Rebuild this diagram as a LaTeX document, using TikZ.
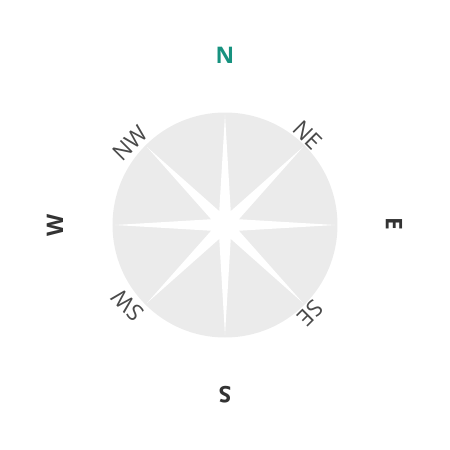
\documentclass[tikz,border=0pt]{standalone}
\usepackage{fontspec}
\setmainfont{Open Sans}
\usepackage{xcolor}
\definecolor{dialgray}{HTML}{EBEBEB}
\definecolor{northteal}{HTML}{17927F}
\definecolor{cardink}{HTML}{333333}
\definecolor{diagink}{HTML}{4A4A4A}
\tikzset{
  cardinal/.style={font=\fontsize{13}{15}\selectfont\bfseries, text=cardink, inner sep=1pt},
  diagonal/.style={font=\fontsize{13}{15}\selectfont, text=diagink, inner sep=1pt},
}

\begin{document}
\begin{tikzpicture}
\useasboundingbox (-4.5,-4.5) rectangle (4.5,4.5);
\fill[dialgray] (0,0) circle (2.25);
\fill[white] (90:2.2) -- (67.5:0.3) -- (45:2.2) -- (22.5:0.3) -- (0:2.2) -- (-22.5:0.3)
  -- (-45:2.2) -- (-67.5:0.3) -- (-90:2.2) -- (-112.5:0.3) -- (-135:2.2) -- (-157.5:0.3)
  -- (180:2.2) -- (157.5:0.3) -- (135:2.2) -- (112.5:0.3) -- cycle;
\node[cardinal, text=northteal] (north) at (0,3.4){N};
\node[cardinal, rotate=-90] (east) at (3.38,0.03){E};
\node[cardinal, rotate=180] (south) at (0,-3.4){S};
\node[cardinal, rotate=90] (west) at (-3.4,0){W};
\node[diagonal, rotate=-45] (northeast) at (1.66,1.8){NE};
\node[diagonal, rotate=45] (northwest) at (-1.9,1.64){NW};
\node[diagonal, rotate=-135] (southeast) at (1.7,-1.76){SE};
\node[diagonal, rotate=135] (southwest) at (-1.94,-1.6){SW};
\end{tikzpicture}
\end{document}
